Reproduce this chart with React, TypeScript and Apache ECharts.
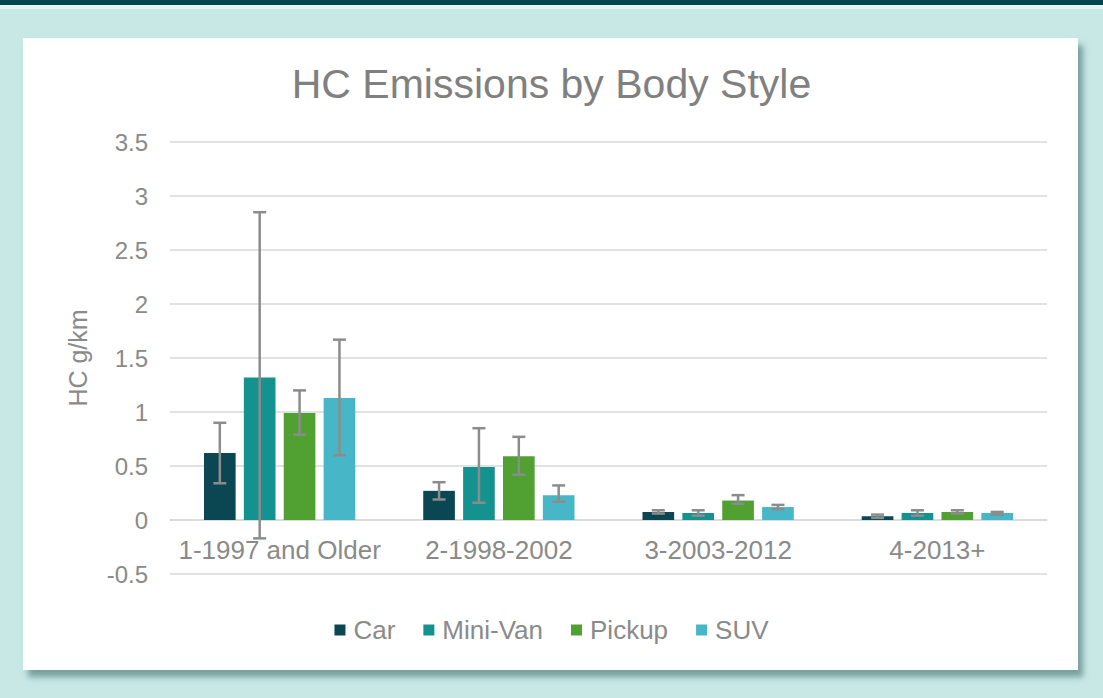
import React, { useEffect, useRef } from "react";
import * as echarts from "echarts";

const categories = ["1-1997 and Older", "2-1998-2002", "3-2003-2012", "4-2013+"];
const seriesNames = ["Car", "Mini-Van", "Pickup", "SUV"];
const carValues = [0.62, 0.27, 0.075, 0.035];
const miniVanValues = [1.32, 0.49, 0.065, 0.065];
const pickupValues = [0.99, 0.59, 0.18, 0.075];
const suvValues = [1.13, 0.23, 0.12, 0.065];
const carLow = [0.34, 0.19, 0.06, 0.02];
const carHigh = [0.9, 0.35, 0.09, 0.05];
const miniVanLow = [-0.17, 0.16, 0.04, 0.04];
const miniVanHigh = [2.85, 0.85, 0.09, 0.09];
const pickupLow = [0.79, 0.42, 0.15, 0.06];
const pickupHigh = [1.2, 0.77, 0.23, 0.09];
const suvLow = [0.6, 0.17, 0.1, 0.05];
const suvHigh = [1.67, 0.32, 0.14, 0.075];
const yTicks = [-0.5, 0, 0.5, 1, 1.5, 2, 2.5, 3, 3.5];

const colors = ["#0b4753", "#14928f", "#50a032", "#47b7c8"];
const CAT_GAP = 0.31;
const BAR_GAP = 0.26;

export default function App() {
  const ref = useRef<HTMLDivElement>(null);
  useEffect(() => {
    if (!ref.current) return;
    const chart = echarts.init(ref.current, null, { renderer: "svg" });
    const values = [carValues, miniVanValues, pickupValues, suvValues];
    const lows = [carLow, miniVanLow, pickupLow, suvLow];
    const highs = [carHigh, miniVanHigh, pickupHigh, suvHigh];
    const errData: number[][] = [];
    for (let s = 0; s < 4; s++) {
      for (let c = 0; c < categories.length; c++) {
        errData.push([c, s, lows[s][c], highs[s][c]]);
      }
    }
    const n = seriesNames.length;
    const font = "'Liberation Sans', Arial, sans-serif";
    const plotTop = 142;
    const plotBottom = 574;
    const zeroY = plotBottom - ((0 - yTicks[0]) / (yTicks[yTicks.length - 1] - yTicks[0])) * (plotBottom - plotTop);
    chart.setOption({
      animation: false,
      title: {
        text: "HC Emissions by Body Style",
        left: "center",
        top: 58,
        textStyle: { fontFamily: font, fontSize: 41, fontWeight: "normal", color: "#808080" },
      },
      legend: {
        data: seriesNames,
        left: "center",
        top: 612,
        itemWidth: 11,
        itemHeight: 11,
        itemGap: 28,
        icon: "rect",
        textStyle: { fontFamily: font, fontSize: 26, color: "#8a8a8a", padding: [0, 0, 0, 3] },
      },
      grid: { left: 170, right: 56, top: plotTop, bottom: 698 - plotBottom, containLabel: false },
      xAxis: {
        type: "category",
        data: categories,
        position: "bottom",
        offset: -(plotBottom - zeroY),
        axisLine: { show: true, onZero: false, lineStyle: { color: "#d9d9d9", width: 1.5 } },
        axisTick: { show: false },
        axisLabel: { fontFamily: font, fontSize: 26, color: "#8a8a8a", margin: 17, interval: 0 },
      },
      yAxis: {
        type: "value",
        min: yTicks[0],
        max: yTicks[yTicks.length - 1],
        interval: 0.5,
        name: "HC g/km",
        nameLocation: "middle",
        nameGap: 80,
        nameTextStyle: { fontFamily: font, fontSize: 25, color: "#8a8a8a" },
        axisLine: { show: false },
        axisTick: { show: false },
        axisLabel: { fontFamily: font, fontSize: 24, color: "#8a8a8a", margin: 22 },
        splitLine: { lineStyle: { color: "#d9d9d9", width: 1.5 } },
      },
      series: [
        ...seriesNames.map((name, i) => ({
          name,
          type: "bar",
          data: values[i],
          barCategoryGap: `${CAT_GAP * 100}%`,
          barGap: `${BAR_GAP * 100}%`,
          itemStyle: { color: colors[i] },
        })),
        {
          type: "custom",
          name: "err",
          z: 5,
          data: errData,
          encode: { x: 0, y: [2, 3] },
          renderItem: (params: any, api: any) => {
            const c = api.value(0);
            const s = api.value(1);
            const lo = api.value(2);
            const hi = api.value(3);
            const center = api.coord([c, 0])[0];
            const band = api.size([1, 0])[0];
            const w = (band * (1 - CAT_GAP)) / (n + (n - 1) * BAR_GAP);
            const total = n * w + (n - 1) * BAR_GAP * w;
            const x = center - total / 2 + s * w * (1 + BAR_GAP) + w / 2;
            const yHi = api.coord([c, hi])[1];
            const yLo = api.coord([c, lo])[1];
            const hw = 6.5;
            const style = { stroke: "#8c8c8c", lineWidth: 2.5 };
            return {
              type: "group",
              children: [
                { type: "line", shape: { x1: x, y1: yHi, x2: x, y2: yLo }, style },
                { type: "line", shape: { x1: x - hw, y1: yHi, x2: x + hw, y2: yHi }, style },
                { type: "line", shape: { x1: x - hw, y1: yLo, x2: x + hw, y2: yLo }, style },
              ],
            };
          },
        },
      ],
    });
    return () => chart.dispose();
  }, []);

  return (
    <div style={{ position: "fixed", left: 0, top: 0, width: 1103, height: 698, background: "#c8e8e6", overflow: "hidden" }}>
      <div style={{ position: "absolute", left: 0, top: 0, width: 1103, height: 5, background: "#00444f" }} />
      <div style={{ position: "absolute", left: 0, top: 5, width: 1103, height: 4, background: "#e6f3f2" }} />
      <div
        style={{
          position: "absolute",
          left: 23,
          top: 38,
          width: 1055,
          height: 632,
          background: "#ffffff",
          boxShadow: "5px 7px 6px rgba(40,90,90,0.5)",
        }}
      />
      <div ref={ref} style={{ position: "absolute", left: 0, top: 0, width: 1103, height: 698 }} />
    </div>
  );
}
